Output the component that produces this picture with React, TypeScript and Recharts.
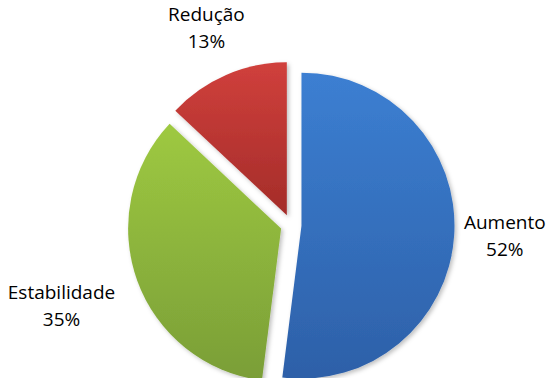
import { PieChart, Pie, Cell, Sector } from "recharts";

const categories = ["Aumento", "Estabilidade", "Redução"];
const shares = [52, 35, 13];
const gradTop = ["#3c7fd2", "#9ec941", "#d0403c"];
const gradBottom = ["#2d60a8", "#7a9e37", "#a42c29"];

const data = categories.map((name, i) => ({ name, value: shares[i] }));

const RAD = Math.PI / 180;
const EXPLODE = 10.5;
const FONT = 19;

function ExplodedSlice(props: any) {
  const { cx, cy, midAngle, innerRadius, outerRadius, startAngle, endAngle, index, percent, name } = props;
  const ux = Math.cos(-midAngle * RAD);
  const uy = Math.sin(-midAngle * RAD);
  const sx = cx + ux * EXPLODE;
  const sy = cy + uy * EXPLODE;

  // label box pushed out along the mid angle until it clears the slice
  const text = name as string;
  const halfW = text.length * FONT * 0.28;
  const halfH = FONT * 1.3;
  const extent = Math.abs(ux) * halfW + Math.abs(uy) * halfH;
  const dist = outerRadius + EXPLODE + 12 + extent;
  const lx = cx + ux * dist;
  const ly = cy + uy * dist;

  return (
    <g>
      <Sector
        cx={sx}
        cy={sy}
        innerRadius={innerRadius}
        outerRadius={outerRadius}
        startAngle={startAngle}
        endAngle={endAngle}
        fill={`url(#grad${index})`}
        stroke="none"
        filter="url(#shadow)"
      />
      <text
        x={lx}
        y={ly}
        textAnchor="middle"
        fontFamily="'Open Sans', sans-serif"
        fontSize={FONT}
        fill="#000"
      >
        <tspan x={lx} dy={-9}>{text}</tspan>
        <tspan x={lx} dy={27}>{`${Math.round(percent * 100)}%`}</tspan>
      </text>
    </g>
  );
}

export default function App() {
  return (
    <div style={{ position: "absolute", left: 0, top: 0, width: 556, height: 378, background: "#fff" }}>
      <PieChart width={556} height={378} margin={{ top: 0, right: 0, bottom: 0, left: 0 }}>
        <defs>
          {categories.map((c, i) => (
            <linearGradient key={c} id={`grad${i}`} x1="0" y1="0" x2="0" y2="1">
              <stop offset="0%" stopColor={gradTop[i]} />
              <stop offset="100%" stopColor={gradBottom[i]} />
            </linearGradient>
          ))}
          <filter id="shadow" x="-20%" y="-20%" width="140%" height="140%">
            <feDropShadow dx="2" dy="2" stdDeviation="2" floodColor="#000" floodOpacity="0.25" />
          </filter>
        </defs>
        <Pie
          data={data}
          dataKey="value"
          nameKey="name"
          cx={291}
          cy={225}
          innerRadius={0}
          outerRadius={153}
          startAngle={90}
          endAngle={-270}
          stroke="none"
          labelLine={false}
          label={ExplodedSlice}
          isAnimationActive={false}
        >
          {data.map((d) => (
            <Cell key={d.name} fill="transparent" />
          ))}
        </Pie>
      </PieChart>
    </div>
  );
}
